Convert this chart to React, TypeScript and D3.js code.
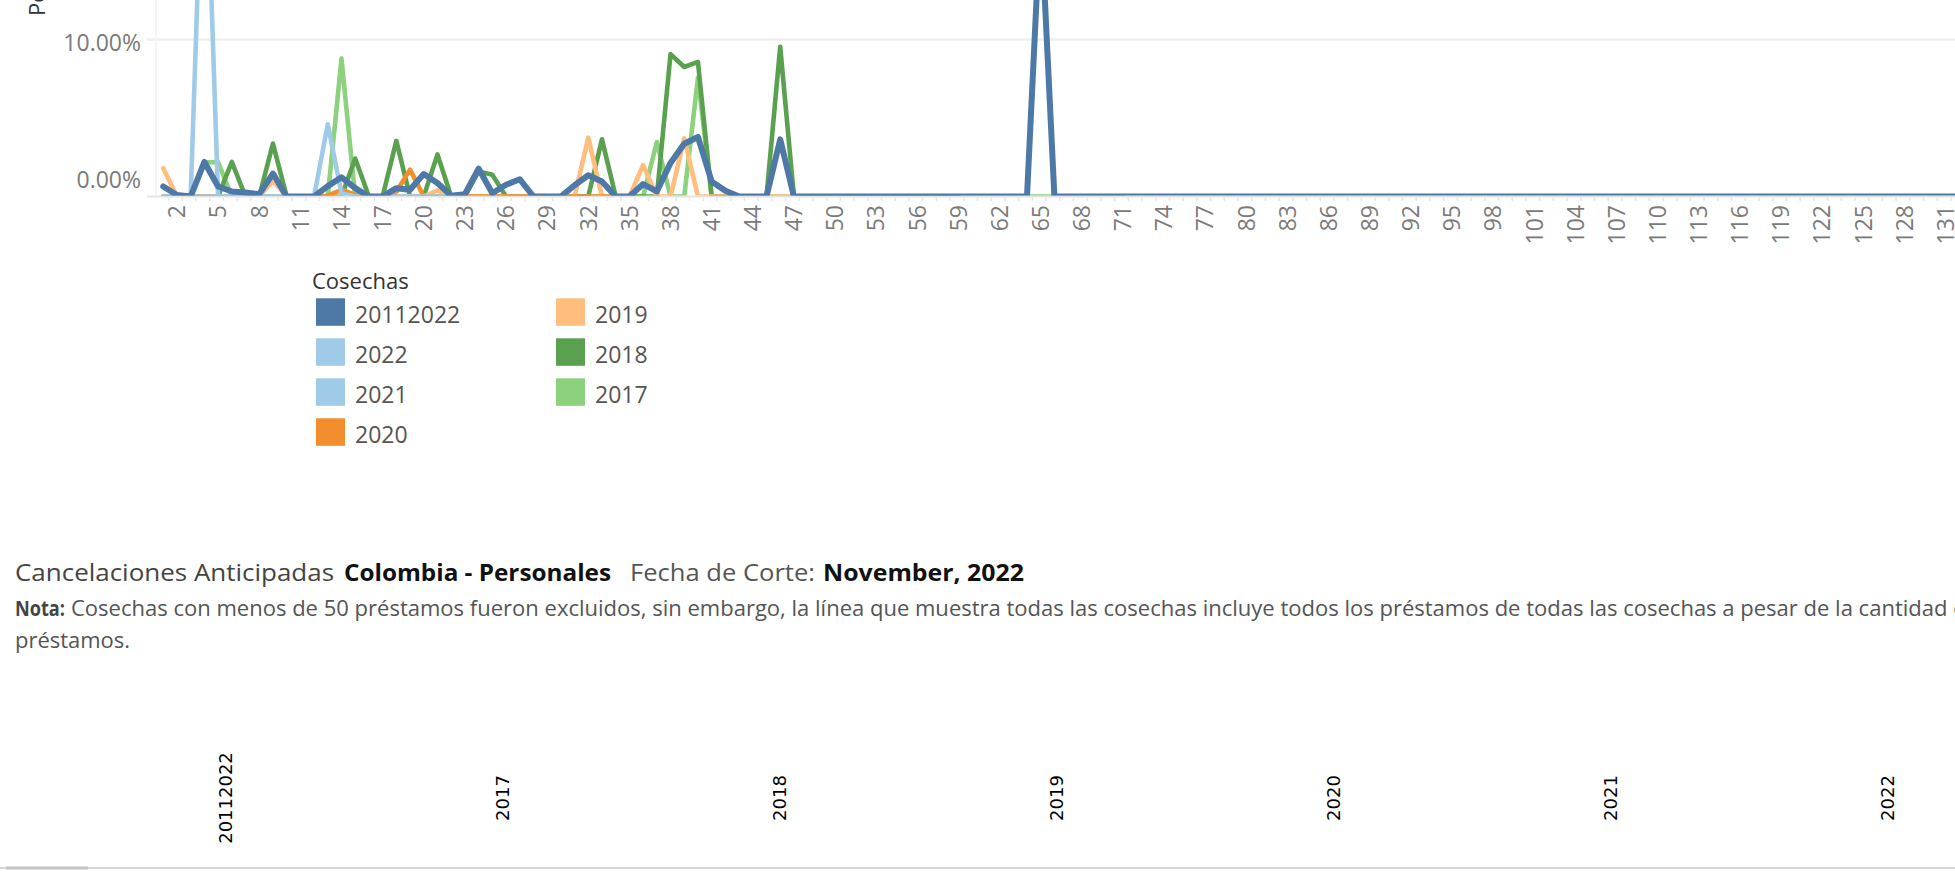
import React from 'react';
import * as d3 from 'd3';

const W = 1955;
const H = 876;

// Months since origination (x axis)
const months = d3.range(1, 141);
const tickMonths = d3.range(2, 141, 3);
const yTicks = [0, 10, 20];

const cohorts = ['20112022', '2022', '2021', '2020', '2019', '2018', '2017'];
const colors = ['#4e79a7', '#a0cbe8', '#a0cbe8', '#f28e2b', '#ffbe7d', '#59a14f', '#8cd17d'];

// values in percent, index 0 = month 1
const s20112022 = [
  0.64, 0.1, 0, 2.2, 0.64, 0.32, 0.26, 0.15, 1.46, 0,
  0, 0, 0.66, 1.22, 0.53, 0, 0, 0.53, 0.43, 1.43,
  0.86, 0.05, 0.15, 1.78, 0.21, 0.75, 1.1, 0, 0, 0,
  0.72, 1.35, 0.96, 0, 0, 0.79, 0.32, 2.14, 3.36, 3.79,
  0.96, 0.37, 0, 0, 0, 3.64, 0, 0, 0, 0,
  0, 0, 0, 0, 0, 0, 0, 0, 0, 0,
  0, 0, 0, 0, 18, 0, 0, 0, 0, 0,
  0, 0, 0, 0, 0, 0, 0, 0, 0, 0,
  0, 0, 0, 0, 0, 0, 0, 0, 0, 0,
  0, 0, 0, 0, 0, 0, 0, 0, 0, 0,
  0, 0, 0, 0, 0, 0, 0, 0, 0, 0,
  0, 0, 0, 0, 0, 0, 0, 0, 0, 0,
  0, 0, 0, 0, 0, 0, 0, 0, 0, 0,
  0, 0, 0, 0, 0, 0, 0, 0, 0, 0,
];
const s2022 = [0, 0, 0, 26, 0, 0, 0, 0, 0, 0, 0];
const s2021 = [
  0, 0, 0, 0, 0, 0, 0, 0, 0, 0,
  0, 0, 4.6, 0.2, 0, 0, 0, 0, 0, 0,
  0, 0, 0,
];
const s2020 = [
  0, 0, 0, 0, 0, 0, 0, 0, 0, 0,
  0, 0, 0.05, 0.43, 0.1, 0, 0, 0.3, 1.71, 0,
  0, 0, 0, 0, 0, 0, 0, 0, 0, 0,
  0, 0, 0, 0, 0,
];
const s2019 = [
  1.8, 0, 0, 0, 0, 0, 0, 0, 1.0, 0,
  0, 0, 0, 0, 0, 0, 0, 0, 0, 0,
  0.4, 0, 0, 0, 0, 0, 0, 0, 0, 0,
  0, 3.75, 0, 0, 0, 2.0, 0, 0, 3.7, 0,
  0, 0, 0, 0, 0, 0, 0,
];
const s2018 = [
  0, 0, 0, 0, 0, 2.2, 0, 0, 3.37, 0,
  0, 0, 0, 0, 2.42, 0, 0, 3.54, 0, 0,
  2.68, 0, 0, 1.6, 1.39, 0, 0, 0, 0, 0,
  0, 0, 3.64, 0, 0, 0, 0, 9.07, 8.25, 8.57,
  0, 0, 0, 0, 0, 9.54, 0, 0, 0, 0,
  0, 0, 0, 0, 0, 0, 0, 0, 0,
];
const s2017 = [
  0, 0, 0, 2.18, 2.18, 0, 0, 0, 0, 0,
  0, 0, 0, 8.78, 0, 0, 0, 0, 0, 0,
  0, 0, 0, 0, 0, 0, 0, 0, 0, 0,
  0, 0, 0, 0, 0, 0, 3.47, 0, 0, 7.57,
  0, 0, 0, 0, 0, 0, 0, 0, 0, 0,
  0, 0, 0, 0, 0, 0, 0, 0, 0, 0,
  0, 0, 0, 0, 0, 0, 0, 0, 0, 0,
  0,
];
const seriesValues = [s20112022, s2022, s2021, s2020, s2019, s2018, s2017];

const bottomLabels = ['20112022', '2017', '2018', '2019', '2020', '2021', '2022'];

const FONT = "'Open Sans', 'DejaVu Sans', sans-serif";

export default function App() {
  const x = d3.scaleBand<number>().domain(months).range([156.4, 156.4 + 140 * 13.71]);
  const xc = (k: number) => (x(k) as number) + x.bandwidth() / 2;
  const y = d3.scaleLinear().domain([0, 10]).range([196.5, 39.5]);
  const line = d3
    .line<number>()
    .x((_, i) => xc(i + 1))
    .y((v) => y(v));

  const drawOrder = [6, 5, 4, 3, 2, 1, 0];
  const widths = [6, 4.6, 4.6, 4.6, 4.6, 4.6, 4.6];

  const bx = d3.scalePoint<string>().domain(bottomLabels).range([225.7, 1887.7]);

  return (
    <div style={{ position: 'absolute', left: 0, top: 0, width: W, height: H, overflow: 'hidden', background: '#fff' }}>
      <svg width={W} height={H} style={{ display: 'block' }} fontFamily={FONT}>
        <defs>
          <clipPath id="pane">
            <rect x={156} y={-400} width={W} height={y(0) - 1 + 400} />
          </clipPath>
        </defs>
        {/* gridlines */}
        {yTicks.map((t) => (
          <line key={'g' + t} x1={147} x2={W} y1={y(t)} y2={y(t)} stroke={t === 0 ? '#e4e4e4' : '#efefef'} strokeWidth={t === 0 ? 1.8 : 2.5} />
        ))}
        <line x1={156} x2={156} y1={0} y2={197} stroke="#f0f0f0" strokeWidth={1.5} />
        {/* x ticks */}
        {months.slice(1).map((k) => (
          <line key={'t' + k} x1={(x(k) as number) - 1.5} x2={(x(k) as number) - 1.5} y1={197.5} y2={201} stroke="#e6e6e6" strokeWidth={1.5} />
        ))}
        {/* y tick labels */}
        {yTicks.map((t) => (
          <text key={'yl' + t} x={141} y={Math.min(y(t) + 11, y(0) - 8.5)} textAnchor="end" fontSize={23} fill="#7a7a7a">
            {t.toFixed(2) + '%'}
          </text>
        ))}
        {/* y axis title */}
        <text transform="translate(45,16) rotate(-90)" fontSize={22} fill="#333">Porcentaje de Cancelación Anticipada</text>
        {/* x tick labels */}
        {tickMonths.map((k) => (
          <text key={'xl' + k} transform={`translate(${xc(k)},205) rotate(-90)`} textAnchor="end" dy="0.36em" fontSize={23} fill="#7a7a7a">
            {k}
          </text>
        ))}
        {/* lines */}
        <g clipPath="url(#pane)">
          {drawOrder.map((i) => (
            <path
              key={'s' + cohorts[i]}
              d={line(seriesValues[i]) || ''}
              fill="none"
              stroke={colors[i]}
              strokeWidth={widths[i]}
              strokeLinejoin="round"
              strokeLinecap="round"
            />
          ))}
        </g>
        {/* legend */}
        <text x={312} y={289} fontSize={22} fill="#333">Cosechas</text>
        {cohorts.map((c, i) => {
          const col = i < 4 ? 0 : 1;
          const row = i < 4 ? i : i - 4;
          const lx = col === 0 ? 316 : 556;
          const ly = 298.3 + row * 40;
          return (
            <g key={'lg' + c}>
              <rect x={lx} y={ly} width={29} height={27.5} fill={colors[i]} />
              <text x={lx + 39} y={ly + 24.5} fontSize={23} fill="#555">{c}</text>
            </g>
          );
        })}
        {/* title */}
        <g fontSize={24}>
          <text x={15} y={581} fill="#444" textLength={319} lengthAdjust="spacingAndGlyphs">Cancelaciones Anticipadas</text>
          <text x={344} y={581} fill="#111" fontWeight="bold" textLength={267} lengthAdjust="spacingAndGlyphs">Colombia - Personales</text>
          <text x={630} y={581} fill="#555" textLength={185} lengthAdjust="spacingAndGlyphs">Fecha de Corte:</text>
          <text x={823} y={581} fill="#111" fontWeight="bold" textLength={201} lengthAdjust="spacingAndGlyphs">November, 2022</text>
        </g>
        {/* note */}
        <g fontSize={22}>
          <text x={15} y={616} fill="#444" fontWeight="bold" textLength={50} lengthAdjust="spacingAndGlyphs">Nota:</text>
          <text x={71} y={616} fill="#555" textLength={1908} lengthAdjust="spacingAndGlyphs">
            Cosechas con menos de 50 préstamos fueron excluidos, sin embargo, la línea que muestra todas las cosechas incluye todos los préstamos de todas  las cosechas a pesar de la cantidad de
          </text>
          <text x={15} y={648} fill="#555" textLength={115} lengthAdjust="spacingAndGlyphs">préstamos.</text>
        </g>
        {/* bottom headers */}
        {bottomLabels.map((b) => (
          <text
            key={'b' + b}
            transform={`translate(${bx(b)},798) rotate(-90)`}
            textAnchor="middle"
            dy="0.36em"
            fontSize={18}
            fontFamily="'DejaVu Sans', sans-serif"
            fill="#000"
          >
            {b}
          </text>
        ))}
        <line x1={0} x2={W} y1={868} y2={868} stroke="#d6d6d6" strokeWidth={2} />
        <line x1={6} x2={88} y1={868} y2={868} stroke="#c4c4c4" strokeWidth={3} />
      </svg>
    </div>
  );
}
